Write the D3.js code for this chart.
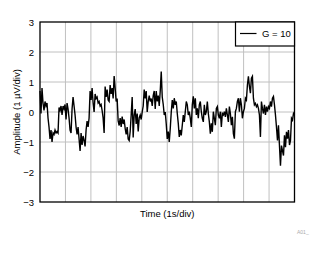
<!DOCTYPE html>
<html>
<head>
<meta charset="utf-8">
<script src="https://cdn.jsdelivr.net/npm/d3@7"></script>
<style>
  body { margin: 0; background: #fff; }
  text { font-family: "Liberation Sans", Arial, sans-serif; }
</style>
</head>
<body>
<svg id="chart"></svg>
<script>
// Noise trace, G = 10, 10 s total (1 s/div)
const amplitude = [
  0.7, -0.05, 0.8, 0.3, 0.05, 0.35, 0.2, 0.3, -0.2, -0.5, -0.9, -0.6, -1.0, -0.7, -0.75, -0.6,
  -0.7, -0.65, -0.7, 0.15, 0.05, 0.2, -0.1, 0.2, 0.1, 0.25, -0.25, 0.3, 0.1, -0.2, -0.6, -0.7,
  0.1, 0.5, 0.2, -0.1, -0.5, -0.75, -0.5, -0.9, -1.3, -0.7, -1.1, -0.8, -0.95, -1.15, -0.6, -0.3,
  -0.5, -0.2, 0.7, 0.4, 0.8, 0.3, 0.0, 0.6, 0.45, 0.5, 0.3, 0.35, 0.2, 0.25, 0.05, -0.2,
  // second block
  -0.7, 0.85, 0.5, 0.75, 0.4, 0.35, 0.9, 0.6, 0.8, 0.45, 1.2, 0.8, 0.35, 0.45, -0.3, -0.45,
  -0.2, -0.5, -0.15, -0.4, -0.25, -0.55, -0.75, -0.5, -0.9, -0.95, -0.65, -0.1, 0.5, -0.85, -0.1, 0.1,
  -0.4, -0.05, -0.65, -0.2, -0.1, -0.25, 0.0, 0.2, 0.75, 0.45, 0.7, 0.0, 0.35, 0.55, 0.35, 0.45,
  0.2, 0.55, 0.7, 0.1, 0.7, 0.35, 0.55, 0.2, 0.7, 1.35, 0.5, 0.25, -0.1, 0.0, -0.4, -0.9, -0.65,
  // third block
  -1.0, -0.55, 0.0, 0.4, 0.12, 0.46, 0.24, 0.35, -0.05, -0.38, -0.83, -0.6, -0.78, -0.44, -0.1, -0.33,
  0.01, 0.35, 0.24, -0.1, 0.01, -0.21, -0.5, 0.24, 0.52, 0.12, 0.46, -0.1, 0.12, -0.21, 0.24, 0.35,
  0.01, -0.21, -0.33, 0.24, -0.1, 0.01, 0.35, -0.05, -0.33, -0.72, -0.38, -0.66, 0.01, -0.21, -0.44, 0.12,
  0.18, -0.1, -0.21, 0.01, -0.5, -0.05, -0.1, 0.01, -0.16, 0.12, -0.1, -0.33, 0.18, -0.05, -0.44, -0.16,
  // fourth block
  -0.72, -0.89, 0.01, 0.12, 0.35, 0.46, 0.01, 0.46, 0.24, -0.21, 0.01, 0.12, 0.46, 0.4, 0.9, 1.19,
  0.85, 0.63, 1.13, 1.19, 0.46, 0.24, 0.29, 0.18, 0.24, 0.12, -0.1, -0.83, 0.35, 0.12, -0.05, 0.24,
  -0.1, 0.18, 0.01, 0.18, 0.12, 0.35, 0.18, 0.46, 0.52, 0.24, -0.1, -0.5, -0.95, -0.44, -1.12, -1.79,
  -1.12, -1.29, -1.45, -0.78, -1.17, -0.66, -0.89, -0.6, -1.1, -0.95, -0.21, -0.27, -0.05, -0.1
];
const totalTime = 10;
const time = amplitude.map((d, i) => i * totalTime / (amplitude.length - 1));

const yTicks = [-3, -2, -1, 0, 1, 2, 3];
const xGrid = d3.range(0, 11, 1);
const legendLabel = "G = 10";

const W = 327, H = 254;
const margin = { top: 22, right: 32.5, bottom: 52, left: 40 };
const width = W - margin.left - margin.right;
const height = H - margin.top - margin.bottom;

const svg = d3.select("#chart").attr("width", W).attr("height", H);
const g = svg.append("g").attr("transform", "translate(" + margin.left + "," + margin.top + ")");

const x = d3.scaleLinear().domain([0, totalTime]).range([0, width]);
const y = d3.scaleLinear().domain([-3, 3]).range([height, 0]);

// gridlines
g.append("g").selectAll("line").data(xGrid.slice(1, -1)).enter().append("line")
  .attr("x1", d => x(d)).attr("x2", d => x(d))
  .attr("y1", 0).attr("y2", height)
  .attr("stroke", "#c0c0c0").attr("stroke-width", 1);
g.append("g").selectAll("line").data(yTicks.slice(1, -1)).enter().append("line")
  .attr("x1", 0).attr("x2", width)
  .attr("y1", d => y(d)).attr("y2", d => y(d))
  .attr("stroke", "#c0c0c0").attr("stroke-width", 1);

// y axis tick labels
const yAxis = g.append("g").call(d3.axisLeft(y).tickValues(yTicks).tickSize(0).tickPadding(6).tickFormat(d3.format("d")));
yAxis.select(".domain").remove();
yAxis.selectAll("text").style("font-size", "9.5px").attr("fill", "#000")
  .style("font-family", "Liberation Sans, Arial, sans-serif");

// trace
const line = d3.line().x((d, i) => x(time[i])).y(d => y(d));
g.append("path").datum(amplitude)
  .attr("d", line)
  .attr("fill", "none")
  .attr("stroke", "#000")
  .attr("stroke-width", 1.4)
  .attr("stroke-linejoin", "miter");

// frame
g.append("rect").attr("x", 0).attr("y", 0).attr("width", width).attr("height", height)
  .attr("fill", "none").attr("stroke", "#000").attr("stroke-width", 1.3);

// legend
const lg = g.append("g").attr("transform", "translate(" + (width - 59) + ",0)");
lg.append("rect").attr("width", 59).attr("height", 24)
  .attr("fill", "#fff").attr("stroke", "#000").attr("stroke-width", 1.2);
lg.append("line").attr("x1", 4.5).attr("x2", 21).attr("y1", 11.5).attr("y2", 11.5)
  .attr("stroke", "#000").attr("stroke-width", 1.2);
lg.append("text").attr("x", 26.5).attr("y", 15).style("font-size", "9.5px").text(legendLabel);

// axis titles
svg.append("text")
  .attr("x", margin.left + width / 2).attr("y", 217)
  .attr("text-anchor", "middle").style("font-size", "9.5px")
  .text("Time (1s/div)");
svg.append("text")
  .attr("transform", "translate(20," + (margin.top + height / 2) + ") rotate(-90)")
  .attr("text-anchor", "middle").style("font-size", "9.5px")
  .text("Amplitude (1 µV/div)");

svg.append("text")
  .attr("x", 297).attr("y", 234)
  .style("font-size", "5px").attr("fill", "#aaa")
  .text("A01_");
</script>
</body>
</html>
